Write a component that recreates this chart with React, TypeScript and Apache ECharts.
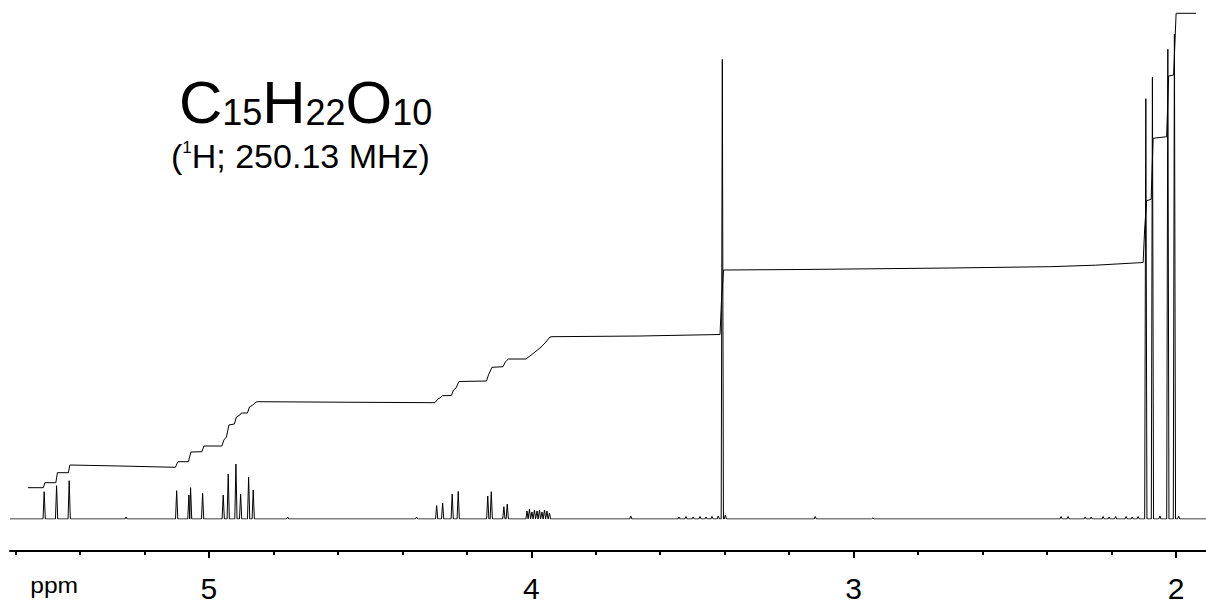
import React, { useEffect, useRef } from "react";
import * as echarts from "echarts";

// Chemical shifts (ppm) and peak intensities
const peakPpm = [
  5.511, 5.4725, 5.4334, 5.257, 5.1, 5.0621, 5.0568, 5.0195, 4.9556, 4.9401, 4.9162, 4.9016, 4.8768, 4.8625,
  4.7558, 4.3556, 4.2935, 4.2749, 4.2453, 4.2266, 4.135, 4.1241, 4.085, 4.0745,
  4.0133, 4.0056, 3.9978, 3.9901, 3.9823, 3.9746, 3.9668, 3.959, 3.9513, 3.9435,
  3.6913, 3.5417, 3.52, 3.498, 3.4766, 3.458, 3.4393, 3.42, 3.4074, 3.398, 3.1192, 2.9404,
  2.3565, 2.3348, 2.282, 2.2634, 2.2262, 2.2076, 2.1874, 2.1548, 2.1362, 2.1176,
  2.0937, 2.0732, 2.05, 2.0254, 2.005, 1.992,
];
const peakHeight = [
  27.3, 33.3, 38.3, 2, 28.3, 24, 31.3, 25.7, 24, 45, 55, 25, 41.7, 29,
  2, 2, 13.3, 16, 25, 27.6, 23, 27.3, 12.3, 15,
  8, 10, 7, 9, 8, 9, 7, 9, 8, 6,
  3, 2, 2.5, 2, 2.5, 2, 2.5, 3, 459.7, 4, 2.5, 1,
  2.5, 2.5, 2, 2, 2.5, 2, 2.5, 2.5, 2, 2.5,
  420.3, 441.7, 3, 469.7, 485, 3,
];

// Integral curve (ppm, cumulative value)
const integralPpm = [
  5.5616, 5.5135, 5.5088, 5.4747, 5.47, 5.4359, 5.4313, 5.2761, 5.1039, 5.0962, 5.0636, 5.0558, 5.0217, 5.0155,
  4.9597, 4.9535, 4.9457, 4.9379, 4.9209, 4.9147, 4.9038, 4.8992, 4.8805, 4.8743, 4.8635, 4.8542, 4.848,
  4.5935, 4.2988, 4.291, 4.2833, 4.2755, 4.2476, 4.2414, 4.2336, 4.2243, 4.139, 4.1328, 4.1219, 4.0878, 4.08,
  4.0707, 4.0164, 4.004, 3.9885, 3.973, 3.9575, 3.942, 3.9358, 3.6627, 3.4145, 3.4099, 3.4036, 3.1663, 2.7009,
  2.3906, 2.25, 2.102, 2.0974, 2.0912, 2.0772, 2.071, 2.0291, 2.0229, 2.0074, 1.9997, 1.9376,
];
const integralValue = [
  31.3, 31.3, 36.3, 36.3, 46.3, 46.3, 54, 53, 51.7, 57.3, 57.3, 67, 67.3, 73,
  73, 79, 82, 94, 95, 102, 104, 106, 106, 112, 114, 117, 117.3,
  116.8, 116.3, 119.7, 121, 123.3, 123.5, 129, 131, 137.5, 138, 144, 151.7, 152.3, 157.3,
  160, 160, 163, 167, 171, 176, 182, 182.3, 183, 184.5, 219, 249, 249.5, 251,
  252.3, 253.8, 256.5, 289, 318.3, 319.7, 380.7, 382.3, 443, 444, 505.7, 505.7,
];

const majorTicks = [2, 3, 4, 5];
const minorTicks = [2.2, 2.4, 2.6, 2.8, 3.2, 3.4, 3.6, 3.8, 4.2, 4.4, 4.6, 4.8, 5.2, 5.4, 5.6];

const X_MIN = 1.907;
const X_MAX = 5.617;
const FONT = "'Liberation Sans', Arial, Helvetica, sans-serif";

function buildSpectrum(): number[][] {
  const hw = 0.0035;
  const peaks = peakPpm.map((p, i) => [p, peakHeight[i]]).sort((a, b) => b[0] - a[0]);
  const pts: number[][] = [[X_MAX, 0]];
  peaks.forEach(([p, h], i) => {
    const prev = peaks[i - 1];
    const next = peaks[i + 1];
    const left = prev ? Math.min(p + hw, (prev[0] + p) / 2) : p + hw;
    const right = next ? Math.max(p - hw, (p + next[0]) / 2) : p - hw;
    pts.push([left, 0], [p, h], [right, 0]);
  });
  pts.push([X_MIN, 0]);
  return pts;
}

function txt(text: string, x: number, y: number, size: number, scaleX = 1, rich?: any) {
  return {
    type: "text",
    x,
    y,
    scaleX,
    silent: true,
    style: {
      text,
      fill: "#000",
      font: `${size}px ${FONT}`,
      fontSize: size,
      fontFamily: FONT,
      textAlign: "left",
      textVerticalAlign: "middle",
      rich,
    },
  };
}

export default function App() {
  const ref = useRef<HTMLDivElement>(null);
  useEffect(() => {
    if (!ref.current) return;
    const chart = echarts.init(ref.current, undefined, { renderer: "svg" });
    const integral = integralPpm.map((p, i) => [p, integralValue[i]]);
    const baseAxis = {
      type: "value",
      min: X_MIN,
      max: X_MAX,
      inverse: true,
      position: "bottom",
      offset: 32,
      splitLine: { show: false },
    };
    chart.setOption({
      animation: false,
      backgroundColor: "#fff",
      grid: { left: 10, right: 0, top: 0, bottom: 86 },
      xAxis: [
        {
          ...baseAxis,
          axisLine: { show: true, onZero: false, lineStyle: { color: "#000", width: 2 } },
          axisTick: { show: true, customValues: majorTicks, length: 7, lineStyle: { color: "#000", width: 2 } },
          axisLabel: {
            show: true,
            customValues: majorTicks,
            color: "#000",
            fontSize: 30,
            fontFamily: FONT,
            lineHeight: 24,
            margin: 25,
          },
        },
        {
          ...baseAxis,
          axisLine: { show: false, onZero: false },
          axisTick: { show: true, customValues: minorTicks, length: 4, lineStyle: { color: "#000", width: 2 } },
          axisLabel: { show: false },
        },
      ],
      yAxis: { type: "value", min: 0, max: 519, show: false },
      series: [
        {
          type: "line",
          data: buildSpectrum(),
          xAxisIndex: 0,
          symbol: "none",
          silent: true,
          lineStyle: { color: "#000", width: 1 },
        },
        {
          type: "line",
          data: integral,
          xAxisIndex: 0,
          symbol: "none",
          silent: true,
          lineStyle: { color: "#000", width: 1 },
        },
      ],
      graphic: [
        txt("C", 179, 102.2, 60),
        txt("15", 222.3, 112.5, 36),
        txt("H", 262.3, 102.2, 60),
        txt("22", 305.6, 112.5, 36),
        txt("O", 345.6, 102.2, 60),
        txt("10", 392.3, 112.5, 36),
        txt("({sup|1}H; 250.13 MHz)", 171, 155.5, 34, 1, {
          sup: { fontSize: 17, fontFamily: FONT, lineHeight: 24, verticalAlign: "top", fill: "#000" },
        }),
        txt("ppm", 30.2, 585.7, 22, 1.12),
      ],
    });
    return () => chart.dispose();
  }, []);
  return <div ref={ref} style={{ position: "absolute", left: 0, top: 0, width: 1206, height: 605 }} />;
}
